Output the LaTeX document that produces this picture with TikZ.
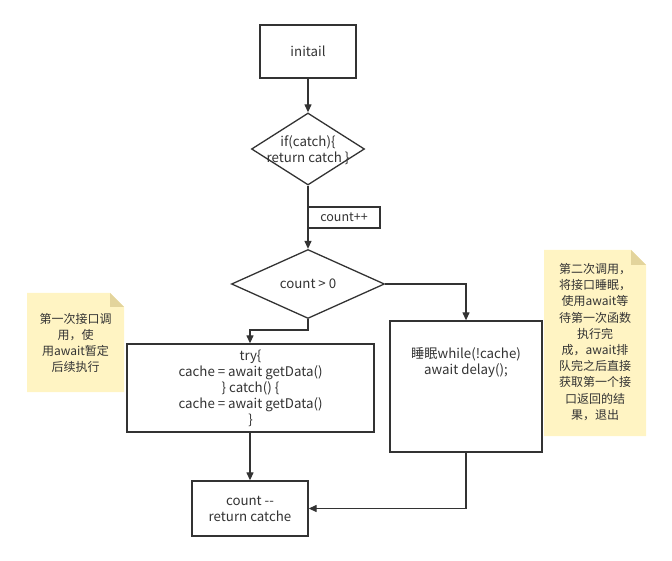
\documentclass[tikz,border=0pt]{standalone}
\usepackage{fontspec}
\setmainfont{Noto Sans CJK SC}
\usetikzlibrary{arrows.meta,calc,shapes.geometric}
\definecolor{ln}{HTML}{333333}
\definecolor{notefill}{HTML}{FFF4C3}
\definecolor{notefold}{HTML}{E3D49C}
\tikzset{
  box/.style={draw=ln,line width=1.3pt,rectangle,align=center,inner sep=0pt,font=\fontsize{13.3}{16}\selectfont,text=ln},
  dia/.style={draw=ln,line width=1.3pt,diamond,aspect=1.5,align=center,inner sep=0pt,font=\fontsize{13.3}{16}\selectfont,text=ln},
  conn/.style={draw=ln,line width=1.2pt,-{Triangle[length=8pt,width=7pt]}},
  lbl/.style={align=center,inner sep=0pt,font=\fontsize{13.3}{16}\selectfont,text=ln},
  notetext/.style={align=center,inner sep=0pt,font=\fontsize{12}{16.2}\selectfont,text=ln}
}
\begin{document}
\begin{tikzpicture}[x=1pt,y=-1pt]
\useasboundingbox (0,0) rectangle (672,561);
% notes
\fill[notefill] (27,293) -- (110,293) -- (124,307) -- (124,392) -- (27,392) -- cycle;
\fill[notefold] (110,293) -- (124,307) -- (110,307) -- cycle;
\fill[notefill] (544,250) -- (631,250) -- (646,265) -- (646,436) -- (544,436) -- cycle;
\fill[notefold] (631,250) -- (646,265) -- (631,265) -- cycle;
\node[notetext] (n1) at (75.5,343) {第一次接口调\\用，使\\用await暂定\\后续执行};
\node[notetext] (n2) at (595,342) {第二次调用，\\将接口睡眠，\\使用await等\\待第一次函数\\执行完\\成，await排\\队完之后直接\\获取第一个接\\口返回的结\\果，退出};
% nodes
\node[box,minimum width=96pt,minimum height=53pt] (init) at (308,51.5) {initail};
\node[dia,minimum width=113pt,minimum height=72pt] (d1) at (308,149) {};
\node[lbl] (d1t) at (308,150) {if(catch)\{\\return catch \}};
\node[box,minimum width=72pt,minimum height=21pt,font=\fontsize{12.5}{14}\selectfont] (cpp) at (344,217.5) {count++};
\node[dia,minimum width=153pt,minimum height=69pt] (d2) at (308,284) {count > 0};
\node[box,minimum width=247pt,minimum height=88pt] (try) at (250.5,388) {try\{\\cache = await getData()\\\} catch() \{\\cache = await getData()\\\}};
\node[box,minimum width=152pt,minimum height=131pt] (sleep) at (466,386.5) {};
\node[lbl] (sleept) at (466,363) {睡眠while(!cache)\\await delay();};
\node[box,minimum width=116pt,minimum height=55pt] (cnt) at (250,508.5) {count -{}-\\return catche};
% connectors
\draw[conn] (init) -- (d1);
\draw[conn] (d1.south) -- (d2.north);
\coordinate (b1) at (308,330);
\coordinate (b2) at (250,330);
\draw[conn] (d2.south) -- (b1) -- (b2) -- (try.north -| b2);
\coordinate (r1) at (466,284);
\draw[conn] (d2.east) -- (r1) -- (sleep.north);
\draw[conn] (try.south -| cnt.north) -- (cnt.north);
\coordinate (s1) at (466,508.5);
\draw[conn] (sleep.south) -- (s1) -- (cnt.east);
\end{tikzpicture}
\end{document}
